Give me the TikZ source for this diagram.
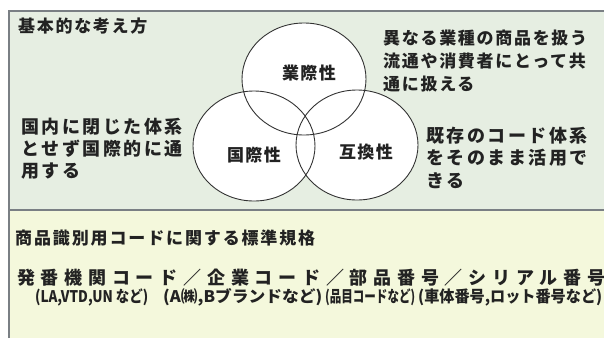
\documentclass[tikz,border=0pt]{standalone}
\usepackage{fontspec}
\usepackage{graphicx}
\setmainfont{Noto Sans CJK JP}
\definecolor{topbg}{HTML}{E6EEE2}
\definecolor{botbg}{HTML}{F4F8DC}
\definecolor{framec}{HTML}{7A7F84}
\definecolor{textc}{HTML}{222222}
\definecolor{circc}{HTML}{333333}
\newcommand\jpf[2]{\fontsize{#1}{#1}\selectfont\bfseries\addfontfeature{LetterSpace=#2}}
\tikzset{
  txt/.style={anchor=base west, inner sep=0pt, text=textc},
  lbl/.style={anchor=base, inner sep=0pt, text=textc, font=\jpf{17}{8}},
  frameline/.style={draw=framec, line width=1.2pt},
  divline/.style={draw=framec, line width=1.6pt},
  circline/.style={draw=circc, line width=0.9pt},
}
\begin{document}
\begin{tikzpicture}[x=1pt,y=-1pt]
\useasboundingbox (0,0) rectangle (604,338);
\fill[white] (0,0) rectangle (604,338);
\fill[topbg] (9,11) rectangle (604,210);
\fill[botbg] (9,210) rectangle (604,338);
\draw[frameline] (9,338) -- (9,11) -- (604,11);
\draw[divline] (9,210) -- (604,210);
% circles
\fill[white] (304,79) ellipse [x radius=62, y radius=56];
\fill[white] (254,146) ellipse [x radius=61, y radius=55];
\fill[white] (357,145) ellipse [x radius=61, y radius=55];
\draw[circline] (304,79) ellipse [x radius=62, y radius=56];
\draw[circline] (254,146) ellipse [x radius=61, y radius=55];
\draw[circline] (357,145) ellipse [x radius=61, y radius=55];
% circle labels
\node[lbl] (c1) at (309,79) {業際性};
\node[lbl] (c2) at (254,161) {国際性};
\node[lbl] (c3) at (366,158) {互換性};
% title
\node[txt, font=\jpf{17}{10}] (title) at (18,32) {基本的な考え方};
% left text
\node[txt, font=\jpf{18}{14}] (l1) at (21,133) {国内に閉じた体系};
\node[txt, font=\jpf{18}{14}] (l2) at (21,155) {とせず国際的に通};
\node[txt, font=\jpf{18}{14}] (l3) at (21,177) {用する};
% right upper text
\node[txt, font=\jpf{17}{10}] (r1) at (383,44) {異なる業種の商品を扱う};
\node[txt, font=\jpf{17}{10}] (r2) at (383,67) {流通や消費者にとって共};
\node[txt, font=\jpf{17}{10}] (r3) at (383,90) {通に扱える};
% right lower text
\node[txt, font=\jpf{18}{14}] (s1) at (426,142) {既存のコード体系};
\node[txt, font=\jpf{18}{14}] (s2) at (426,164) {をそのまま活用で};
\node[txt, font=\jpf{18}{14}] (s3) at (426,187) {きる};
% bottom
\node[txt, font=\jpf{17}{11}] (head) at (15,244) {商品識別用コードに関する標準規格};
\node[txt, font=\jpf{18}{32}] (big) at (17,284) {発番機関コード／企業コード／部品番号／シリアル番号};
\node[txt, font=\jpf{16}{0}] (g1) at (35,302) {\resizebox{113pt}{\height}{(LA,VTD,UN など)}};
\node[txt, font=\jpf{16}{0}] (g2) at (163,302) {\resizebox{159pt}{\height}{(A㈱,Bブランドなど)}};
\node[txt, font=\jpf{16}{0}] (g3) at (325,302) {\resizebox{90pt}{\height}{(品目コードなど)}};
\node[txt, font=\jpf{16}{0}] (g4) at (418,302) {\resizebox{184pt}{\height}{(車体番号,ロット番号など)}};
\end{tikzpicture}
\end{document}
